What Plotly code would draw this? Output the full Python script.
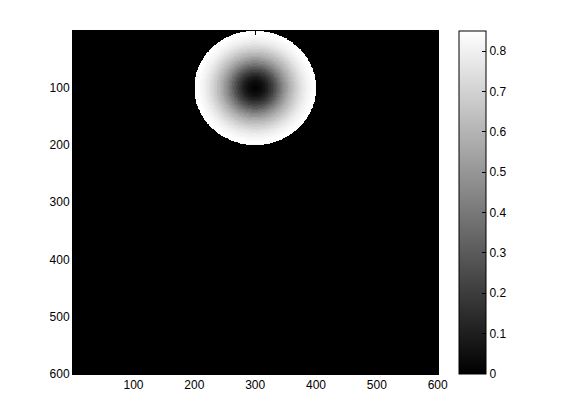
import numpy as np
import plotly.graph_objects as go

# image grid (pixel indices, like imagesc)
n_cols = 600
n_rows = 600

# disc
center_x = 300
center_y = 100
radius = 100

# radial profile of the disc, sampled every 0.025 of the radius (r/R = 0 .. 1)
profile_step = 0.025
profile_v = [0.01, 0.01, 0.02, 0.03, 0.04, 0.05, 0.07, 0.09, 0.11, 0.14,
             0.17, 0.20, 0.23, 0.27, 0.30, 0.34, 0.38, 0.41, 0.45, 0.48,
             0.51, 0.54, 0.57, 0.60, 0.62, 0.64, 0.67, 0.69, 0.71, 0.73,
             0.75, 0.77, 0.78, 0.80, 0.81, 0.82, 0.83, 0.84, 0.85, 0.85,
             0.83]

tick_vals = [100, 200, 300, 400, 500, 600]
cbar_ticks = [0, 0.1, 0.2, 0.3, 0.4, 0.5, 0.6, 0.7, 0.8]
cbar_labels = ["0", "0.1", "0.2", "0.3", "0.4", "0.5", "0.6", "0.7", "0.8"]

x = np.arange(1, n_cols + 1)
y = np.arange(1, n_rows + 1)
xx, yy = np.meshgrid(x, y)
rr = np.sqrt((xx - center_x) ** 2 + (yy - center_y) ** 2) / radius
idx = np.clip(np.round(rr / profile_step).astype(int), 0, len(profile_v) - 1)
z = np.where(rr <= 1.0, np.array(profile_v)[idx], 0.0).round(3)

fig = go.Figure(go.Heatmap(
    x=x, y=y, z=z,
    colorscale=[[0, "black"], [1, "white"]],
    zmin=0, zmax=0.85,
    colorbar=dict(
        x=1.0575, xanchor="left", xpad=0,
        y=0.5, yanchor="middle", len=1.0, lenmode="fraction", ypad=0,
        thickness=27,
        outlinecolor="black", outlinewidth=1,
        tickvals=cbar_ticks,
        ticktext=cbar_labels,
        ticks="inside", ticklen=4, tickcolor="black",
        tickfont=dict(family="Liberation Sans", size=12, color="black"),
    ),
))

axis_style = dict(
    showgrid=False, zeroline=False,
    showline=True, linecolor="black", linewidth=1, mirror="ticks",
    ticks="inside", ticklen=4, tickcolor="black",
    tickfont=dict(family="Liberation Sans", size=12, color="black"),
    tickvals=tick_vals,
)

# page body adds an 8px offset, so margins are trimmed to land the axes
# where the reference has them
fig.update_layout(
    width=561, height=420,
    margin=dict(l=65, r=131, t=23, b=54),
    paper_bgcolor="white", plot_bgcolor="white",
    xaxis=dict(range=[0.5, 600.5], **axis_style),
    yaxis=dict(range=[600.5, 0.5], **axis_style),
)

fig.write_html("out.html")
